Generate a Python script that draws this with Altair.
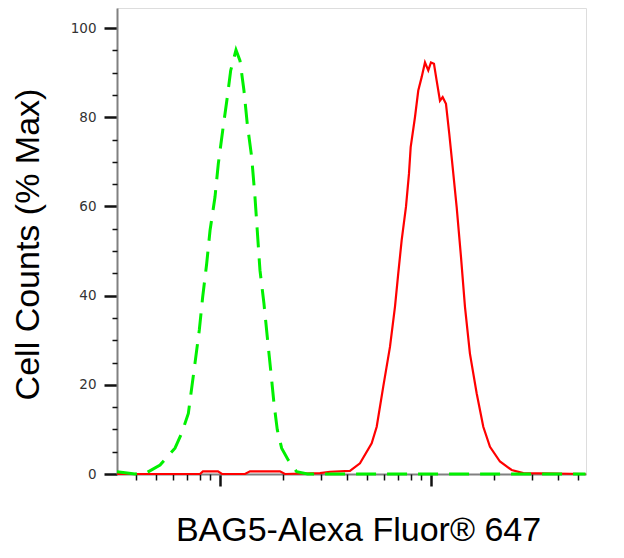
import altair as alt
import pandas as pd

# Fluorescence intensity (log scale) and % max cell counts
green_x = [325, 355, 395, 449, 520, 612, 658, 708, 761, 798, 828, 865, 897, 947, 982,
           1030, 1083, 1124, 1191, 1244, 1299, 1347, 1413, 1465, 1502, 1547, 1616, 1676,
           1739, 1803, 1869, 1960, 2108, 2310, 2600, 3319, 7130, 21230, 54000]
green_y = [0.5, 0.3, 0.0, 0.3, 2.0, 5.8, 9.1, 13.6, 24.8, 32.3, 39.7, 47.2, 54.6, 62.1, 69.6,
           77.0, 84.5, 90.5, 95.1, 92.7, 86.0, 78.5, 71.1, 62.1, 54.6, 45.7, 38.2, 30.7,
           23.3, 15.8, 9.9, 5.8, 3.1, 0.5, 0.0, 0.0, 0.0, 0.0, 0.0]

red_x = [325, 804, 830, 978, 1022, 1314, 1387, 1924, 2032, 2978, 3321, 4131, 4608, 5236,
         5531, 5941, 6393, 6751, 6998, 7262, 7612, 7865, 8014, 8398, 8706, 9034, 9367,
         9710, 10000, 10332, 10641, 11032, 11362, 11779, 12210, 12670, 13235, 13876,
         14493, 15299, 16464, 17700, 19040, 21232, 24130, 27380, 54000]
red_y = [0.0, 0.0, 0.6, 0.6, 0.0, 0.0, 0.6, 0.6, 0.0, 0.2, 0.5, 0.7, 2.4, 6.9,
         10.6, 19.6, 28.5, 37.5, 45.0, 52.4, 59.9, 67.3, 73.3, 80.0, 86.0, 89.0, 92.3,
         90.5, 92.3, 92.0, 88.2, 83.7, 84.5, 83.0, 76.3, 68.8, 59.9, 48.7,
         37.5, 27.0, 18.1, 10.6, 6.1, 2.8, 0.9, 0.2, 0.0]

x_major = [1000, 10000]
x_minor = [400, 500, 600, 700, 800, 900, 2000, 3000, 4000, 5000, 6000, 7000, 8000, 9000,
           20000, 30000, 40000, 50000]
y_major = [0, 20, 40, 60, 80, 100]
y_minor = [5, 10, 15, 25, 30, 35, 45, 50, 55, 65, 70, 75, 85, 90, 95]

red_df = pd.DataFrame({"x": red_x, "y": red_y})
green_df = pd.DataFrame({"x": green_x, "y": green_y})

xscale = alt.Scale(type="log", domain=[325, 54300], nice=False)
yscale = alt.Scale(domain=[0, 104.5], nice=False)

red = alt.Chart(red_df).mark_line(color="#ff0000", strokeWidth=2.2).encode(
    x=alt.X("x:Q", scale=xscale,
            axis=alt.Axis(values=x_major, labels=False, tickSize=12, tickWidth=2.5,
                          tickColor="#111111", grid=False, domainColor="#808080",
                          domainWidth=2, orient="bottom",
                          title="BAG5-Alexa Fluor® 647", titleFont="Liberation Sans",
                          titleFontSize=34, titleFontWeight="normal", titleColor="#000000",
                          titleX=241, titleY=66, titleBaseline="alphabetic",
                          titleAlign="center")),
    y=alt.Y("y:Q", scale=yscale,
            axis=alt.Axis(values=y_major, tickSize=13, tickWidth=2.5, tickColor="#111111",
                          grid=False, domainColor="#808080", domainWidth=2, orient="left",
                          labelFont="DejaVu Sans", labelFontSize=13.5,
                          labelColor="#333333", labelPadding=8,
                          title="Cell Counts (% Max)", titleFont="Liberation Sans",
                          titleFontSize=34, titleFontWeight="normal", titleColor="#000000",
                          titleX=-79, titleY=236, titleBaseline="alphabetic",
                          titleAlign="center")),
    order=alt.Order("x:Q"),
)

green = alt.Chart(green_df).mark_line(color="#00f000", strokeWidth=3,
                                      strokeDash=[20, 11]).encode(
    x=alt.X("x:Q", scale=xscale,
            axis=alt.Axis(values=x_minor, labels=False, tickSize=6, tickWidth=1.5,
                          tickColor="#111111", grid=False, domain=False, orient="bottom",
                          title="")),
    y=alt.Y("y:Q", scale=yscale,
            axis=alt.Axis(values=y_minor, labels=False, tickSize=5, tickWidth=1.5,
                          tickColor="#111111", grid=False, domain=False, orient="left",
                          title="")),
    order=alt.Order("x:Q"),
)

chart = alt.layer(red, green).resolve_axis(x="independent", y="independent").properties(
    width=469, height=466,
    autosize=alt.AutoSizeParams(type="none"),
    padding={"left": 109, "top": 0, "right": 30, "bottom": 76},
).configure_view(stroke="#808080", strokeWidth=2).configure(background="white")

chart.save("out.html", embed_options={"renderer": "svg", "actions": False})
